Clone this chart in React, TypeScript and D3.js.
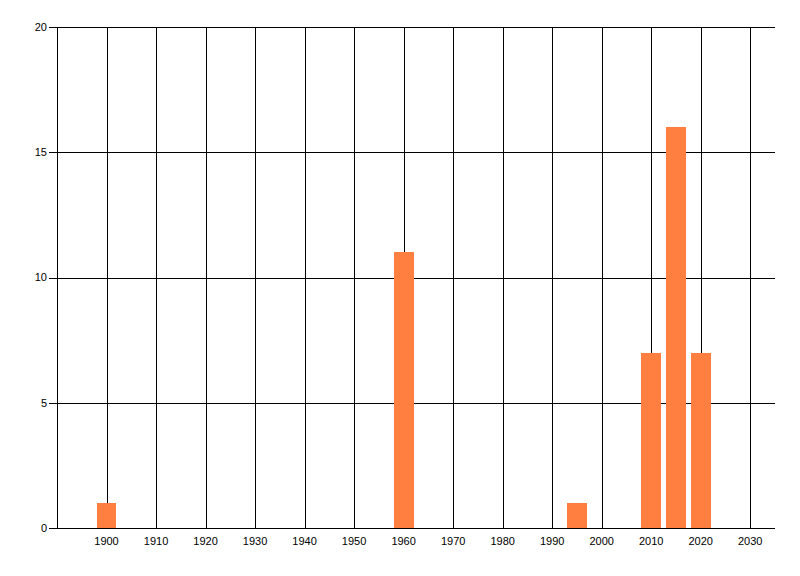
import { useEffect, useRef } from 'react';
import * as d3 from 'd3';

// Bar data
const years = [1900, 1960, 1995, 2010, 2015, 2020];
const counts = [1, 11, 1, 7, 16, 7];

// Axis ticks
const xTickYears = [1900, 1910, 1920, 1930, 1940, 1950, 1960, 1970, 1980, 1990, 2000, 2010, 2020, 2030];
const yTickValues = [0, 5, 10, 15, 20];

const width = 800;
const height = 576;
const margin = { top: 27, right: 25, bottom: 48, left: 57 };

export default function App() {
    const svgRef = useRef<SVGSVGElement>(null);

    useEffect(() => {
        if (!svgRef.current) return;

        const svg = d3.select(svgRef.current);
        svg.selectAll("*").remove();

        const x = d3.scaleLinear()
            .domain([1890, 2035])
            .range([margin.left, width - margin.right]);

        const y = d3.scaleLinear()
            .domain([0, 20])
            .range([height - margin.bottom, margin.top]);

        // pixel-snap for crisp 1px lines
        const px = (v: number) => Math.round(v) + 0.5;

        const font = "'Liberation Sans', Arial, sans-serif";

        // horizontal grid lines
        svg.append("g")
            .selectAll("line")
            .data(yTickValues.filter(v => v > 0))
            .join("line")
            .attr("x1", margin.left)
            .attr("x2", width - margin.right)
            .attr("y1", d => px(y(d)))
            .attr("y2", d => px(y(d)))
            .attr("stroke", "#000")
            .attr("stroke-width", 1);

        // vertical grid lines
        svg.append("g")
            .selectAll("line")
            .data(xTickYears)
            .join("line")
            .attr("x1", d => px(x(d)))
            .attr("x2", d => px(x(d)))
            .attr("y1", margin.top)
            .attr("y2", y(0))
            .attr("stroke", "#000")
            .attr("stroke-width", 1);

        // bars, 4 years wide, centred on the year
        svg.append("g")
            .selectAll("rect")
            .data(years.map((yr, i) => ({ yr, n: counts[i] })))
            .join("rect")
            .attr("x", d => Math.round(x(d.yr - 2)))
            .attr("width", d => Math.round(x(d.yr + 2)) - Math.round(x(d.yr - 2)))
            .attr("y", d => Math.round(y(d.n)))
            .attr("height", d => Math.round(y(0)) - Math.round(y(d.n)))
            .attr("fill", "#ff7f40");

        // axis lines
        svg.append("line")
            .attr("x1", px(margin.left))
            .attr("x2", px(margin.left))
            .attr("y1", margin.top)
            .attr("y2", px(y(0)))
            .attr("stroke", "#000");
        svg.append("line")
            .attr("x1", margin.left)
            .attr("x2", width - margin.right)
            .attr("y1", px(y(0)))
            .attr("y2", px(y(0)))
            .attr("stroke", "#000");

        // y ticks and labels
        const yt = svg.append("g")
            .selectAll("g")
            .data(yTickValues)
            .join("g");
        yt.append("line")
            .attr("x1", margin.left - 8)
            .attr("x2", margin.left)
            .attr("y1", d => px(y(d)))
            .attr("y2", d => px(y(d)))
            .attr("stroke", "#000");
        yt.append("text")
            .attr("x", margin.left - 10)
            .attr("y", d => y(d))
            .attr("dy", "0.35em")
            .attr("text-anchor", "end")
            .attr("font-family", font)
            .attr("font-size", "11px")
            .attr("fill", "#000")
            .text(d => d.toString());

        // x labels
        svg.append("g")
            .selectAll("text")
            .data(xTickYears)
            .join("text")
            .attr("x", d => x(d))
            .attr("y", y(0) + 13)
            .attr("dy", "0.35em")
            .attr("text-anchor", "middle")
            .attr("font-family", font)
            .attr("font-size", "11px")
            .attr("fill", "#000")
            .text(d => d.toString());
    }, []);

    return (
        <svg
            ref={svgRef}
            width={width}
            height={height}
            style={{ position: 'absolute', left: 0, top: 0, background: '#fff' }}
        />
    );
}
